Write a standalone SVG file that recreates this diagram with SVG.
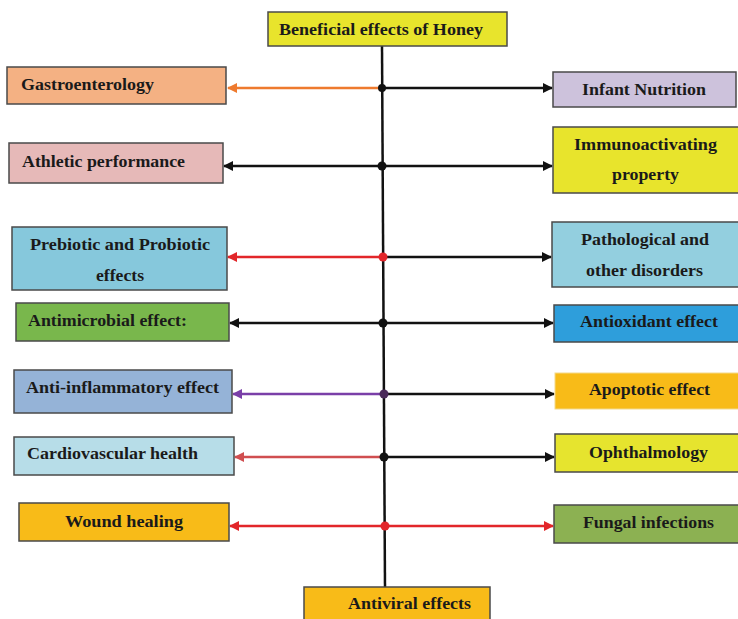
<svg xmlns="http://www.w3.org/2000/svg" width="738" height="619" viewBox="0 0 738 619">
<defs>
<style>
.box{stroke:#4a4a4a;stroke-width:1.5}
.t{font-family:"Liberation Serif","Times New Roman",serif;font-weight:bold;font-size:16px;fill:#1a1a1a}
.ln{fill:none;stroke-width:2.5}
</style>
<marker id="ak" viewBox="0 0 10 10" refX="9" refY="5" markerWidth="4" markerHeight="4" orient="auto-start-reverse" markerUnits="strokeWidth"><path d="M0,0L10,5L0,10z" fill="#111"/></marker>
<marker id="ao" viewBox="0 0 10 10" refX="9" refY="5" markerWidth="4" markerHeight="4" orient="auto-start-reverse" markerUnits="strokeWidth"><path d="M0,0L10,5L0,10z" fill="#ee7a2e"/></marker>
<marker id="ar" viewBox="0 0 10 10" refX="9" refY="5" markerWidth="4" markerHeight="4" orient="auto-start-reverse" markerUnits="strokeWidth"><path d="M0,0L10,5L0,10z" fill="#e2262a"/></marker>
<marker id="ap" viewBox="0 0 10 10" refX="9" refY="5" markerWidth="4" markerHeight="4" orient="auto-start-reverse" markerUnits="strokeWidth"><path d="M0,0L10,5L0,10z" fill="#7a3fa8"/></marker>
<marker id="am" viewBox="0 0 10 10" refX="9" refY="5" markerWidth="4" markerHeight="4" orient="auto-start-reverse" markerUnits="strokeWidth"><path d="M0,0L10,5L0,10z" fill="#d04e50"/></marker>
</defs>
<rect width="738" height="619" fill="#ffffff"/>

<g id="connectors">
<line class="ln" x1="382" y1="46" x2="385" y2="588" stroke="#111"/>
<line class="ln" x1="382" y1="88" x2="228" y2="88" stroke="#ee7a2e" marker-end="url(#ao)"/>
<line class="ln" x1="382" y1="88" x2="552" y2="88" stroke="#111" marker-end="url(#ak)"/>
<line class="ln" x1="382" y1="166" x2="224" y2="166" stroke="#111" marker-end="url(#ak)"/>
<line class="ln" x1="382" y1="166" x2="552" y2="166" stroke="#111" marker-end="url(#ak)"/>
<line class="ln" x1="383" y1="257" x2="228" y2="257" stroke="#e2262a" marker-end="url(#ar)"/>
<line class="ln" x1="383" y1="257" x2="551" y2="257" stroke="#111" marker-end="url(#ak)"/>
<line class="ln" x1="383" y1="323" x2="230" y2="323" stroke="#111" marker-end="url(#ak)"/>
<line class="ln" x1="383" y1="323" x2="553" y2="323" stroke="#111" marker-end="url(#ak)"/>
<line class="ln" x1="384" y1="394" x2="233" y2="394" stroke="#7a3fa8" marker-end="url(#ap)"/>
<line class="ln" x1="384" y1="394" x2="554" y2="394" stroke="#111" marker-end="url(#ak)"/>
<line class="ln" x1="384" y1="457" x2="235" y2="457" stroke="#d04e50" marker-end="url(#am)"/>
<line class="ln" x1="384" y1="457" x2="554" y2="457" stroke="#111" marker-end="url(#ak)"/>
<line class="ln" x1="385" y1="526" x2="230" y2="526" stroke="#e2262a" marker-end="url(#ar)"/>
<line class="ln" x1="385" y1="526" x2="553" y2="526" stroke="#e2262a" marker-end="url(#ar)"/>
<circle cx="382" cy="88" r="4" fill="#111"/>
<circle cx="382" cy="166" r="4.5" fill="#111"/>
<circle cx="383" cy="257" r="4.5" fill="#e2262a"/>
<circle cx="383" cy="323" r="4.5" fill="#111"/>
<circle cx="384" cy="394" r="4.5" fill="#4a2a5a"/>
<circle cx="384" cy="457" r="4.5" fill="#111"/>
<circle cx="385" cy="526" r="4.5" fill="#e2262a"/>
</g>

<g id="title"><rect class="box" x="268" y="12" width="239" height="34" fill="#e8e42c"/><text class="t" x="279" y="35" textLength="204" lengthAdjust="spacingAndGlyphs">Beneficial effects of Honey</text></g>

<g id="gastro"><rect class="box" x="7" y="67" width="219" height="37" fill="#f4b183"/><text class="t" x="21" y="90" textLength="133" lengthAdjust="spacingAndGlyphs">Gastroenterology</text></g>
<g id="infant"><rect class="box" x="553" y="72" width="183" height="35" fill="#cdc2dc"/><text class="t" x="582" y="95" textLength="124" lengthAdjust="spacingAndGlyphs">Infant Nutrition</text></g>

<g id="athletic"><rect class="box" x="9" y="143" width="214" height="40" fill="#e6b9b8"/><text class="t" x="22" y="167" textLength="163" lengthAdjust="spacingAndGlyphs">Athletic performance</text></g>
<g id="immuno"><rect class="box" x="553" y="127" width="190" height="66" fill="#e8e42c"/><text class="t" x="574" y="150" textLength="143" lengthAdjust="spacingAndGlyphs">Immunoactivating</text><text class="t" x="612" y="180" textLength="67" lengthAdjust="spacingAndGlyphs">property</text></g>

<g id="prebiotic"><rect class="box" x="12" y="227" width="215" height="63" fill="#86c8dc"/><text class="t" x="30" y="250" textLength="180" lengthAdjust="spacingAndGlyphs">Prebiotic and Probiotic</text><text class="t" x="96" y="281" textLength="48" lengthAdjust="spacingAndGlyphs">effects</text></g>
<g id="pathological"><rect class="box" x="552" y="222" width="190" height="65" fill="#93cfdf"/><text class="t" x="581" y="245" textLength="128" lengthAdjust="spacingAndGlyphs">Pathological and</text><text class="t" x="586" y="276" textLength="117" lengthAdjust="spacingAndGlyphs">other disorders</text></g>

<g id="antimicrobial"><rect class="box" x="16" y="303" width="213" height="38" fill="#79b74c"/><text class="t" x="28" y="326" textLength="159" lengthAdjust="spacingAndGlyphs">Antimicrobial effect:</text></g>
<g id="antioxidant"><rect class="box" x="554" y="305" width="190" height="37" fill="#2e9edb"/><text class="t" x="580" y="327" textLength="138" lengthAdjust="spacingAndGlyphs">Antioxidant effect</text></g>

<g id="antiinflammatory"><rect class="box" x="14" y="370" width="218" height="43" fill="#95b3d7"/><text class="t" x="26" y="393" textLength="193" lengthAdjust="spacingAndGlyphs">Anti-inflammatory effect</text></g>
<g id="apoptotic"><rect x="555" y="373" width="190" height="36" fill="#f8bb18" stroke="#f3d98a" stroke-width="1"/><text class="t" x="589" y="395" textLength="121" lengthAdjust="spacingAndGlyphs">Apoptotic effect</text></g>

<g id="cardio"><rect class="box" x="14" y="437" width="220" height="38" fill="#b7dde8"/><text class="t" x="27" y="459" textLength="171" lengthAdjust="spacingAndGlyphs">Cardiovascular health</text></g>
<g id="ophthalmology"><rect class="box" x="555" y="434" width="190" height="38" fill="#e6e42e"/><text class="t" x="589" y="458" textLength="119" lengthAdjust="spacingAndGlyphs">Ophthalmology</text></g>

<g id="wound"><rect class="box" x="19" y="503" width="210" height="38" fill="#f8bb18"/><text class="t" x="65" y="527" textLength="118" lengthAdjust="spacingAndGlyphs">Wound healing</text></g>
<g id="fungal"><rect class="box" x="554" y="505" width="190" height="38" fill="#8cb152"/><text class="t" x="583" y="528" textLength="131" lengthAdjust="spacingAndGlyphs">Fungal infections</text></g>

<g id="antiviral"><rect class="box" x="304" y="587" width="186" height="40" fill="#f8bb18"/><text class="t" x="348" y="609" textLength="123" lengthAdjust="spacingAndGlyphs">Antiviral effects</text></g>
</svg>
